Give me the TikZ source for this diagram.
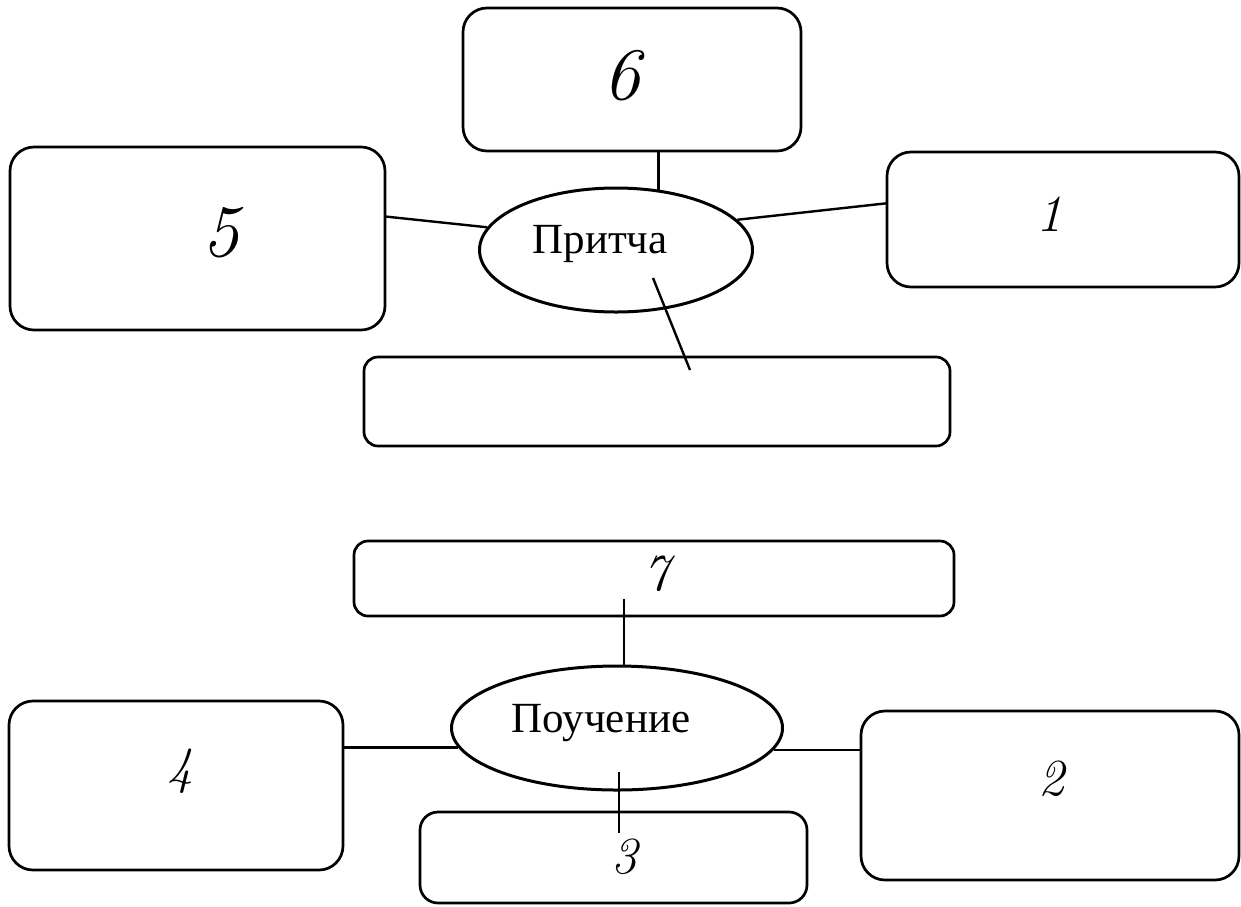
\documentclass[tikz,border=0pt]{standalone}
\usepackage{fontspec}
\setmainfont{Liberation Serif}
\newfontfamily\handfont{Latin Modern Roman}
\usetikzlibrary{shapes.geometric,calc}
\begin{document}
\begin{tikzpicture}[x=1pt,y=-1pt,
  box/.style={draw,line width=2.7pt,rounded corners=#1,inner sep=0pt},
  box/.default=24pt,
  ell/.style={draw,ellipse,line width=3pt,inner sep=0pt},
  lbl/.style={font=\fontsize{43}{43}\selectfont,inner sep=0pt},
  hand/.style={font=\handfont\fontsize{52}{52}\selectfont\itshape,inner sep=0pt},
  bighand/.style={font=\handfont\fontsize{74}{74}\selectfont\itshape,inner sep=0pt},
  conn/.style={line width=2.4pt}]
\useasboundingbox (0,0) rectangle (1241,906);
% --- upper group ---
\draw[box] (463,8) rectangle (801,151); \node[inner sep=0pt] (b6) at (632,79.5) [minimum width=338pt,minimum height=143pt] {};
\draw[box] (10,147) rectangle (385,330); \node[inner sep=0pt] (b5) at (197.5,238.5) [minimum width=375pt,minimum height=183pt] {};
\draw[box] (887,152) rectangle (1239,287); \node[inner sep=0pt] (b1) at (1063,219.5) [minimum width=352pt,minimum height=135pt] {};
\draw[box=14pt] (364,357) rectangle (950,446); \node[inner sep=0pt] (bp) at (657,401.5) [minimum width=586pt,minimum height=89pt] {};
\node[ell,minimum width=273pt,minimum height=124pt] (pe) at (616,250) {};
\node[lbl,anchor=base] (pt) at (600,253) {Притча};
\node[bighand] (t6) at (622,76) {6};
\node[bighand] (t5) at (221,233) {5};
\node[hand] (t1) at (1049,214) {1};
\draw[conn] (b6.south -| pe.55) -- (pe.55);
\draw[conn] ($(b5.north east)!0.38!(b5.south east)$) -- (pe.170);
\draw[conn] (pe.14) -- ($(b1.north west)!0.38!(b1.south west)$);
\coordinate (d1) at (653,278);
\coordinate (d2) at (690,370);
\draw[conn] (d1) -- (d2);
% --- lower group ---
\draw[box=14pt] (354,541) rectangle (954,616); \node[inner sep=0pt] (b7) at (654,578.5) [minimum width=600pt,minimum height=75pt] {};
\draw[box] (9,701) rectangle (343,870); \node[inner sep=0pt] (b4) at (176,785.5) [minimum width=334pt,minimum height=169pt] {};
\draw[box] (861,711) rectangle (1239,880); \node[inner sep=0pt] (b2) at (1050,795.5) [minimum width=378pt,minimum height=169pt] {};
\draw[box=18pt] (420,812) rectangle (807,903); \node[inner sep=0pt] (b3) at (613.5,857.5) [minimum width=387pt,minimum height=91pt] {};
\node[ell,minimum width=331pt,minimum height=124pt] (pq) at (617,728) {};
\node[lbl,anchor=base] (qt) at (601,732) {Поучение};
\node[hand] (t7) at (656,574) {7};
\node[hand] (t4) at (180,771) {4};
\node[hand] (t2) at (1051,779) {2};
\node[hand] (t3) at (624,857) {3};
\coordinate (q7) at (624,599);
\draw[conn] (q7) -- (q7 |- pq.north);
\draw[conn] (b4.east |- pq.187) -- (pq.187);
\draw[conn] (pq.-8) -- (b2.west |- pq.-8);
\coordinate (q3a) at (619,772);
\coordinate (q3b) at (619,833);
\draw[conn] (q3a) -- (q3b);
\end{tikzpicture}
\end{document}
